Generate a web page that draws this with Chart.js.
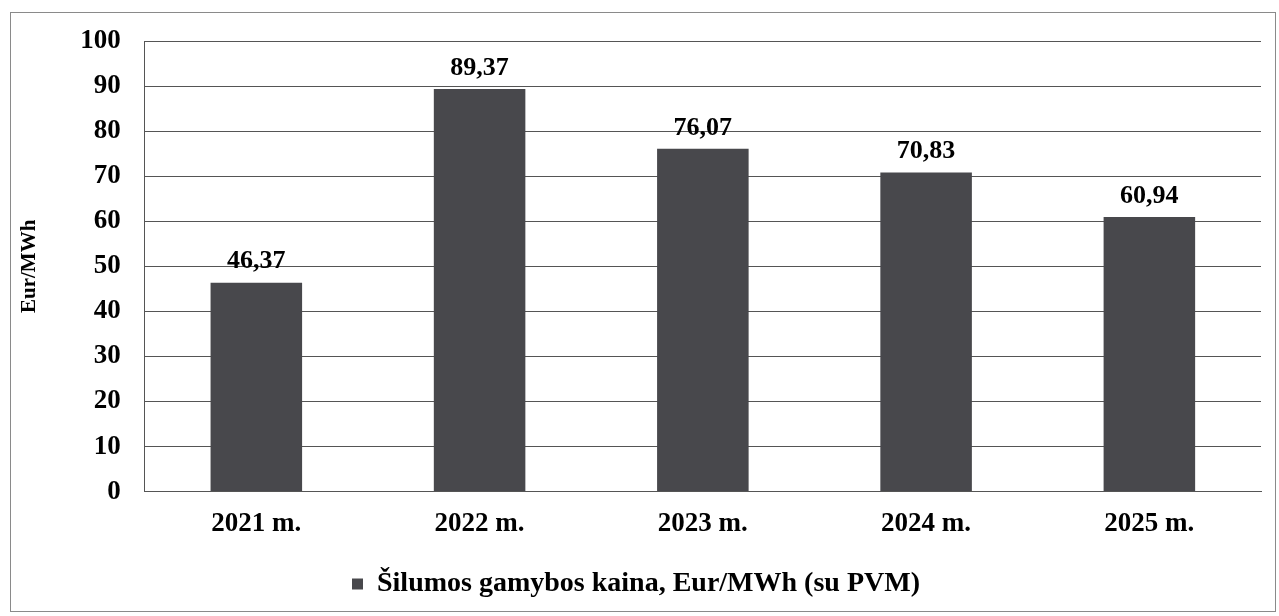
<!DOCTYPE html>
<html>
<head>
<meta charset="utf-8">
<script src="https://cdn.jsdelivr.net/npm/chart.js@4.4.1/dist/chart.umd.min.js"></script>
<style>
  html, body { margin: 0; padding: 0; background: #fff; }
  #box {
    position: absolute; left: 10px; top: 12px;
    width: 1264px; height: 598px;
    border: 1px solid #8a8a8a;
  }
</style>
</head>
<body>
<div id="box"><canvas id="chart" width="1264" height="598"></canvas></div>
<script>
var years = ['2021 m.', '2022 m.', '2023 m.', '2024 m.', '2025 m.'],
    prices = [46.37, 89.37, 76.07, 70.83, 60.94],
    seriesName = 'Šilumos gamybos kaina, Eur/MWh (su PVM)',
    axisTitle = 'Eur/MWh';

var font = 'Liberation Serif, Times New Roman, serif';

// writes the value over each bar, with a comma as decimal mark
var valueLabels = {
    id: 'valueLabels',
    afterDatasetsDraw: function(chart) {
        var ctx = chart.ctx,
            meta = chart.getDatasetMeta(0);
        ctx.save();
        ctx.font = 'bold 26px ' + font;
        ctx.fillStyle = '#000';
        ctx.textAlign = 'center';
        ctx.textBaseline = 'bottom';
        meta.data.forEach(function(bar, i) {
            var txt = prices[i].toFixed(2).replace('.', ',');
            ctx.fillText(txt, bar.x, bar.y - 8);
        });
        ctx.restore();
    }
};

new Chart(document.getElementById('chart').getContext('2d'), {
    type: 'bar',
    data: {
        labels: years,
        datasets: [{
            label: seriesName,
            data: prices,
            backgroundColor: '#48484c',
            borderWidth: 0,
            barPercentage: 0.41,
            categoryPercentage: 1
        }]
    },
    options: {
        responsive: false,
        animation: false,
        layout: { padding: { top: 28, right: 14, left: 0, bottom: 3 } },
        plugins: {
            tooltip: { enabled: false },
            legend: {
                position: 'bottom',
                labels: {
                    color: '#000',
                    font: { family: font, size: 28, weight: 'bold' },
                    boxWidth: 11,
                    boxHeight: 11,
                    padding: 14
                }
            }
        },
        scales: {
            x: {
                grid: { display: false, drawTicks: false },
                border: { color: '#555' },
                ticks: {
                    color: '#000',
                    padding: 16,
                    font: { family: font, size: 27, weight: 'bold' }
                }
            },
            y: {
                min: 0,
                max: 100,
                ticks: {
                    stepSize: 10,
                    color: '#000',
                    padding: 4,
                    font: { family: font, size: 27, weight: 'bold' }
                },
                // invisible tick marks keep the gap between labels and axis
                grid: { color: '#555', drawTicks: true, tickLength: 20, tickColor: 'rgba(0,0,0,0)' },
                border: { color: '#555' },
                title: {
                    display: true,
                    text: axisTitle,
                    color: '#000',
                    padding: { top: 6, bottom: 34 },
                    font: { family: font, size: 21, weight: 'bold' }
                }
            }
        }
    },
    plugins: [valueLabels]
});
</script>
</body>
</html>
